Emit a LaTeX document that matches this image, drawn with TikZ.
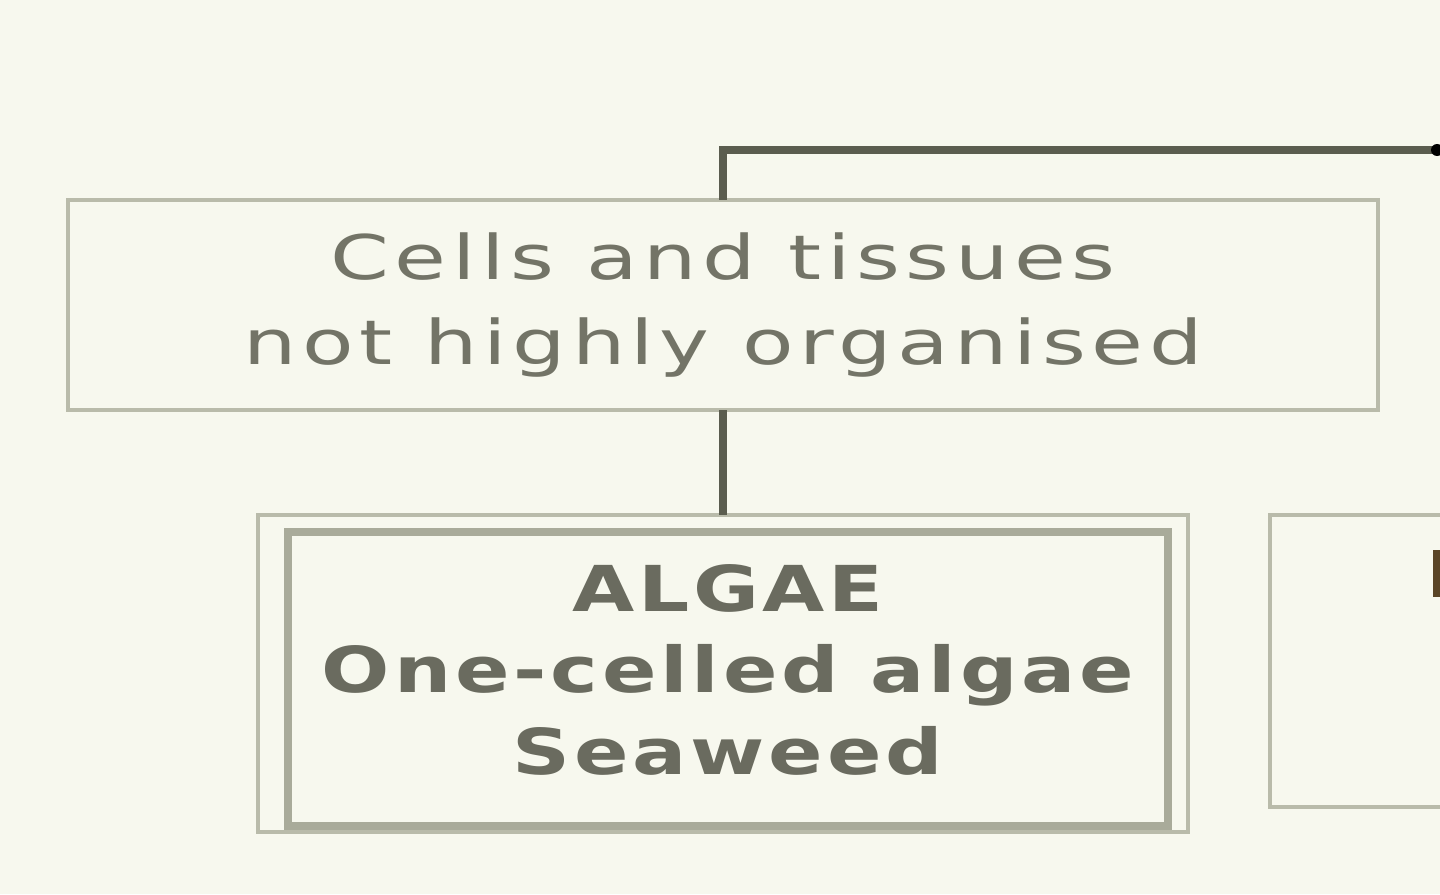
\documentclass[tikz,border=0pt]{standalone}
\usepackage{fontspec}
\newfontfamily\groupfont[LetterSpace=9, FakeStretch=1.37]{DejaVu Sans}
\newfontfamily\taxonfont[LetterSpace=6, FakeStretch=1.27]{DejaVu Sans Bold}
\usetikzlibrary{positioning}
\definecolor{paper}{HTML}{F7F8EE}
\definecolor{frameline}{HTML}{B9BBAA}
\definecolor{innerline}{HTML}{A9AB9A}
\definecolor{linkline}{HTML}{5B5D4F}
\definecolor{labeltext}{HTML}{737467}
\definecolor{glyphbrown}{HTML}{5A4526}

\begin{document}
\begin{tikzpicture}
[x=0.01cm, y=-0.01cm, node distance = 1cm,
% STYLES
every node/.style={outer sep=0pt, inner sep=0pt},
% The group style is used to draw the boxes that describe a group
group/.style={rectangle, draw=frameline, line width=1.1pt, align=center, text=labeltext, font=\groupfont\fontsize{17.5}{24.4}\selectfont},
% The taxon style is used to draw the name of a group and its members
taxon/.style={rectangle, draw=innerline, line width=2.3pt, align=center, text=labeltext!92!black, text depth=0.2cm, font=\taxonfont\fontsize{18}{23.2}\selectfont},
% The link style is used to draw the branches of the tree
link/.style={draw=linkline, line width=2.3pt}]

% Page
\useasboundingbox[fill=paper] (0,0) rectangle (1440,894);
\clip (0,0) rectangle (1440,894);

% Draw groups
\node [group, minimum width=13.1cm, minimum height=2.1cm] (cells) at (723,305) {Cells and tissues\\not highly organised};
\node [group, minimum width=9.3cm, minimum height=3.17cm, below=1.05cm of cells] (algaeframe) {};
\node [taxon, minimum width=8.8cm, minimum height=2.94cm] (algae) at ([xshift=0.05cm, yshift=-0.055cm]algaeframe.center) {ALGAE\\One-celled algae\\Seaweed};
\node [group, minimum width=4cm, minimum height=2.92cm, right=0.82cm of algaeframe.north east, anchor=north west] (next) {};

% NEXT GROUP (cut off)
\fill [glyphbrown] (1433,550) rectangle (1440,597);

% Draw the links between groups
\coordinate (branch) at (1437,150);
\draw [link] (cells.north) |- (branch);
\fill [black] (branch) circle (0.06cm);
\path [link]
    (cells) edge (algaeframe);

\end{tikzpicture}
\end{document}
